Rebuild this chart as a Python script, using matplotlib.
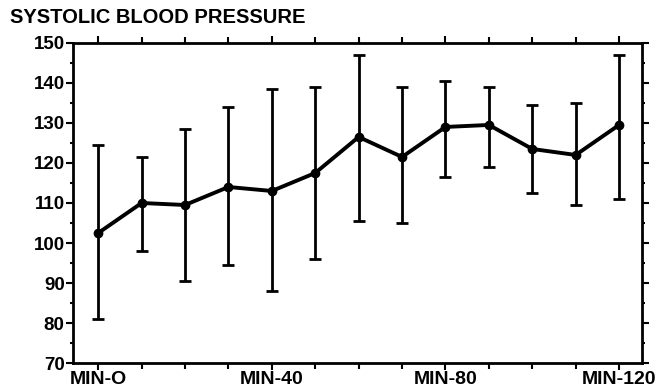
import numpy as np
import matplotlib
matplotlib.use("Agg")
import matplotlib.pyplot as plt
from matplotlib.ticker import MultipleLocator

# time points (minutes) and readings taken off the chart
minutes = [0, 10, 20, 30, 40, 50, 60, 70, 80, 90, 100, 110, 120]
mean_bp = [102.5, 110, 109.5, 114, 113, 117.5, 126.5, 121.5, 129, 129.5, 123.5, 122, 129.5]
upper_bp = [124.5, 121.5, 128.5, 134, 138.5, 139, 147, 139, 140.5, 139, 134.5, 135, 147]
lower_bp = [81, 98, 90.5, 94.5, 88, 96, 105.5, 105, 116.5, 119, 112.5, 109.5, 111]
tick_pos = [0, 40, 80, 120]
tick_labels = ["MIN-O", "MIN-40", "MIN-80", "MIN-120"]

plt.rcParams['font.family'] = ['Liberation Sans', 'DejaVu Sans']
plt.rcParams['font.weight'] = 'bold'

fig = plt.figure(figsize=(6.64, 3.90), dpi=100)
ax = fig.add_axes([0.110, 0.069, 0.857, 0.821])

mean_bp = np.array(mean_bp)
err = [mean_bp - np.array(lower_bp), np.array(upper_bp) - mean_bp]
ax.errorbar(minutes, mean_bp, yerr=err, color='black', lw=2.8, marker='o', ms=6,
            elinewidth=2.0, capsize=4, capthick=2.0)

ax.set_xlim(-5.8, 125.3)
ax.set_ylim(70, 150)
ax.yaxis.set_major_locator(MultipleLocator(10))
ax.yaxis.set_minor_locator(MultipleLocator(5))
ax.set_xticks(tick_pos, minor=False)
ax.set_xticks(minutes, minor=True)
ax.set_xticklabels(tick_labels)

ax.tick_params(axis='both', which='both', direction='out', top=True, right=True,
               width=1.5, pad=1)
ax.tick_params(axis='x', labelsize=14)
ax.tick_params(axis='y', labelsize=13.5)
ax.tick_params(axis='both', which='major', length=5)
ax.tick_params(axis='both', which='minor', length=4)
ax.tick_params(axis='y', which='minor', length=2)
for side in ax.spines.values():
    side.set_linewidth(2)

fig.text(0.015, 0.955, "SYSTOLIC BLOOD PRESSURE", fontsize=14.5, fontweight='bold',
         va='center', ha='left')

fig.savefig("out.png", dpi=100)
